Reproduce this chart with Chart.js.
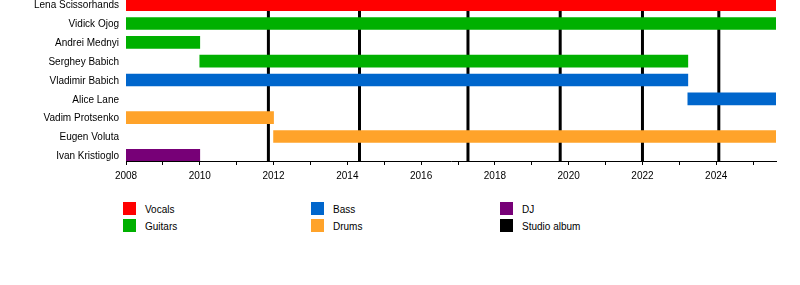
<!DOCTYPE html>
<html>
<head>
<meta charset="utf-8">
<script src="https://cdn.jsdelivr.net/npm/chart.js@4"></script>
<style>
  body { margin: 0; background: #fff; font-family: "Liberation Sans", Arial, sans-serif; overflow: hidden; }
  #wrap { position: relative; width: 800px; height: 285px; overflow: hidden; }
  #chartBox { position: absolute; left: 0; top: -14px; width: 800px; height: 204px; }
  .leg { position: absolute; font-size: 10px; color: #000; line-height: 13px; }
  .leg span { position: absolute; left: 0; top: 0; width: 13px; height: 13px; }
  .leg b { position: absolute; left: 22px; top: 1px; font-weight: normal; white-space: nowrap; }
</style>
</head>
<body>
<div id="wrap">
  <div id="chartBox"><canvas id="timeline"></canvas></div>
  <div id="legend"></div>
</div>
<script>
// Band members, top to bottom
const members = ['Lena Scissorhands', 'Vidick Ojog', 'Andrei Mednyi', 'Serghey Babich', 'Vladimir Babich',
                 'Alice Lane', 'Vadim Protsenko', 'Eugen Voluta', 'Ivan Kristioglo'];
const roles = ['Vocals', 'Guitars', 'Guitars', 'Guitars', 'Bass', 'Bass', 'Drums', 'Drums', 'DJ'];
const starts = [2008, 2008, 2008, 2010, 2008, 2023.23, 2008, 2012, 2008];
const ends = [2025.62, 2025.62, 2010, 2023.23, 2023.23, 2025.62, 2012, 2025.62, 2010];

// Studio album release dates
const albums = [2011.86, 2014.33, 2017.27, 2019.77, 2022.0, 2024.07];

const yearMin = 2008;
const yearMax = 2025.62;

const roleColors = {
    'Vocals': '#ff0000',
    'Guitars': '#00b000',
    'Bass': '#0066cc',
    'Drums': '#ffa32a',
    'DJ': '#770077',
    'Studio album': '#000000'
};
const legendOrder = ['Vocals', 'Guitars', 'Bass', 'Drums', 'DJ', 'Studio album'];

// Vertical album lines, drawn behind the bars
const albumLines = {
    id: 'albumLines',
    beforeDatasetsDraw(chart) {
        const ctx = chart.ctx;
        const area = chart.chartArea;
        const xs = chart.scales.x;
        ctx.save();
        ctx.strokeStyle = '#000';
        ctx.lineWidth = 3;
        albums.forEach(function(a) {
            const px = xs.getPixelForValue(a);
            ctx.beginPath();
            ctx.moveTo(px, area.top);
            ctx.lineTo(px, area.bottom);
            ctx.stroke();
        });
        ctx.restore();
    }
};

document.addEventListener('DOMContentLoaded', function() {
    const ctx = document.getElementById('timeline').getContext('2d');
    new Chart(ctx, {
        type: 'bar',
        data: {
            datasets: [{
                data: members.map(function(m, i) { return { y: i, x: [starts[i], ends[i]] }; }),
                backgroundColor: roles.map(function(r) { return roleColors[r]; }),
                borderWidth: 0,
                barThickness: 12
            }]
        },
        options: {
            indexAxis: 'y',
            responsive: true,
            maintainAspectRatio: false,
            animation: false,
            layout: { padding: { top: 0, right: 24, bottom: 0, left: 0 } },
            plugins: {
                legend: { display: false },
                tooltip: { enabled: false }
            },
            scales: {
                x: {
                    type: 'linear',
                    min: yearMin,
                    max: yearMax,
                    grid: { drawOnChartArea: false, drawTicks: true, tickLength: 4, color: '#000' },
                    border: { display: true, color: '#000', width: 1 },
                    ticks: {
                        stepSize: 1,
                        includeBounds: false,
                        autoSkip: false,
                        maxRotation: 0,
                        padding: 5,
                        color: '#000',
                        font: { family: 'Liberation Sans', size: 10 },
                        callback: function(v) { return v % 2 === 0 ? String(v) : ''; }
                    },
                    afterFit: function(scale) { scale.height = 29; }
                },
                y: {
                    type: 'linear',
                    reverse: true,
                    offset: false,
                    min: -0.3,
                    max: 8.3,
                    grid: { display: false, drawTicks: false, offset: false },
                    border: { display: false },
                    ticks: {
                        stepSize: 1,
                        includeBounds: false,
                        autoSkip: false,
                        padding: 7,
                        labelOffset: 1,
                        color: '#000',
                        font: { family: 'Liberation Sans', size: 10 },
                        callback: function(v) { return members[v] !== undefined ? members[v] : ''; }
                    },
                    afterFit: function(scale) { scale.width = 126; }
                }
            }
        },
        plugins: [albumLines]
    });

    // Legend in three columns below the chart
    const legend = document.getElementById('legend');
    const colX = [123, 311, 500];
    const rowY = [202, 219];
    legendOrder.forEach(function(name, i) {
        const item = document.createElement('div');
        item.className = 'leg';
        item.style.left = colX[Math.floor(i / 2)] + 'px';
        item.style.top = rowY[i % 2] + 'px';
        item.innerHTML = '<span style="background:' + roleColors[name] + '"></span><b>' + name + '</b>';
        legend.appendChild(item);
    });
});
</script>
</body>
</html>
